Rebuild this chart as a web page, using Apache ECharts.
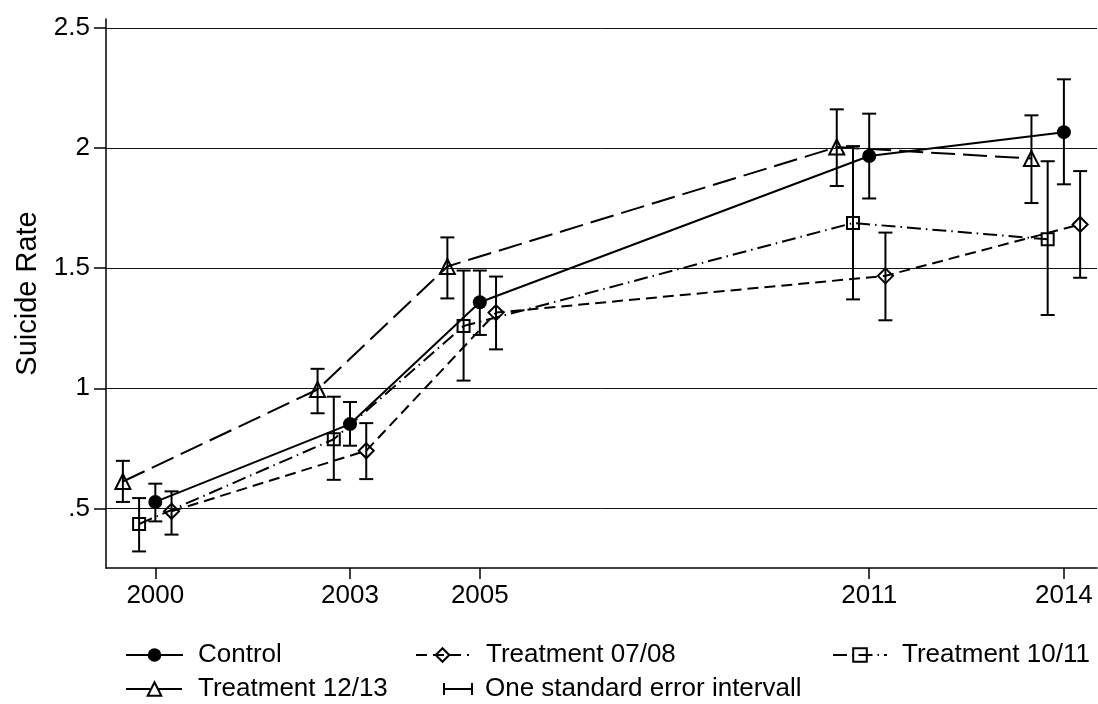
<!DOCTYPE html>
<html>
<head>
<meta charset="utf-8">
<script src="https://cdn.jsdelivr.net/npm/echarts@6/dist/echarts.min.js"></script>
<style>
  html, body { margin: 0; padding: 0; background: #fff; }
  #chart { width: 1098px; height: 704px; }
</style>
</head>
<body>
<div id="chart"></div>
<script>
const years = [2000, 2003, 2005, 2011, 2014];
const yTicks = [0.5, 1, 1.5, 2, 2.5];

const controlMean = [0.527, 0.851, 1.358, 1.967, 2.066];
const controlLow = [0.446, 0.761, 1.222, 1.79, 1.849];
const controlHigh = [0.603, 0.943, 1.49, 2.143, 2.286];

const t0708Mean = [0.488, 0.74, 1.315, 1.468, 1.682];
const t0708Low = [0.391, 0.622, 1.162, 1.283, 1.46];
const t0708High = [0.571, 0.855, 1.465, 1.648, 1.904];

const t1011Mean = [0.435, 0.788, 1.259, 1.688, 1.62];
const t1011Low = [0.321, 0.619, 1.032, 1.37, 1.305];
const t1011High = [0.543, 0.965, 1.49, 2.008, 1.945];

const t1213Mean = [0.612, 0.995, 1.507, 2.004, 1.956];
const t1213Low = [0.527, 0.896, 1.374, 1.842, 1.771];
const t1213High = [0.698, 1.081, 1.628, 2.161, 2.136];

const FONT = '"Liberation Sans", Arial, Helvetica, sans-serif';
const errorName = 'One standard error intervall';

// groups are dodged sideways around each survey year
const groups = [
  { name: 'Control', mean: controlMean, low: controlLow, high: controlHigh, dodge: 0,
    symbol: 'circle', size: 14, fill: '#000', dash: 'solid' },
  { name: 'Treatment 07/08', mean: t0708Mean, low: t0708Low, high: t0708High, dodge: 0.25,
    symbol: 'diamond', size: 15, fill: 'rgba(0,0,0,0)', dash: [11, 6] },
  { name: 'Treatment 10/11', mean: t1011Mean, low: t1011Low, high: t1011High, dodge: -0.25,
    symbol: 'rect', size: 12, fill: 'rgba(0,0,0,0)', dash: [14, 5, 1.5, 5] },
  { name: 'Treatment 12/13', mean: t1213Mean, low: t1213Low, high: t1213High, dodge: -0.5,
    symbol: 'triangle', size: 15, fill: 'rgba(0,0,0,0)', dash: [24, 8] },
];

const lineSeries = groups.map((g) => ({
  name: g.name,
  type: 'line',
  z: 3,
  data: years.map((y, i) => [y + g.dodge, g.mean[i]]),
  symbol: g.symbol,
  symbolSize: g.size,
  showAllSymbol: true,
  lineStyle: { color: '#000', width: 2, type: g.dash },
  itemStyle: { color: g.fill, borderColor: '#000', borderWidth: g.fill === '#000' ? 0 : 2 },
  emphasis: { disabled: true },
}));

const errorData = [];
groups.forEach((g) => {
  years.forEach((y, i) => errorData.push([y + g.dodge, g.low[i], g.high[i]]));
});

const errorSeries = {
  name: errorName,
  type: 'custom',
  z: 2,
  itemStyle: { color: '#000' },
  data: errorData,
  encode: { x: 0, y: [1, 2] },
  renderItem: (params, api) => {
    const x = api.value(0);
    const top = api.coord([x, api.value(2)]);
    const bot = api.coord([x, api.value(1)]);
    const w = 7;
    const style = { stroke: '#000', lineWidth: 2 };
    return {
      type: 'group',
      children: [
        { type: 'line', shape: { x1: top[0], y1: top[1], x2: bot[0], y2: bot[1] }, style },
        { type: 'line', shape: { x1: top[0] - w, y1: top[1], x2: top[0] + w, y2: top[1] }, style },
        { type: 'line', shape: { x1: bot[0] - w, y1: bot[1], x2: bot[0] + w, y2: bot[1] }, style },
      ],
    };
  },
};

// horizontal grid lines at the labelled values
const gridSeries = {
  name: 'grid',
  type: 'line',
  z: 0,
  data: [],
  markLine: {
    silent: true,
    symbol: ['none', 'none'],
    label: { show: false },
    lineStyle: { color: '#111', width: 1, type: 'solid' },
    data: yTicks.map((v) => ({ yAxis: v })),
  },
};

const legendText = (pad) => ({
  fontFamily: FONT, fontSize: 26, color: '#000', lineHeight: 30, padding: [0, 0, 0, pad],
});

const makeLegend = (name, left, top, width, height, pad, icon) => ({
  left, top, padding: 0, selectedMode: false,
  itemWidth: width, itemHeight: height,
  textStyle: legendText(pad),
  data: [icon ? { name, icon } : { name }],
});

const chart = echarts.init(document.getElementById('chart'), null, { renderer: 'canvas' });

chart.setOption({
  animation: false,
  backgroundColor: '#fff',
  textStyle: { fontFamily: FONT },
  grid: { left: 106, right: 1, top: 19, bottom: 136, outerBoundsMode: 'none' },
  xAxis: {
    type: 'value',
    min: 1999.24,
    max: 2014.51,
    splitLine: { show: false },
    axisLine: { lineStyle: { color: '#000', width: 1.5 } },
    axisTick: { length: 11, lineStyle: { color: '#000', width: 1.5 }, customValues: years },
    axisLabel: {
      customValues: years, margin: 15, fontSize: 26, color: '#000', fontFamily: FONT,
      formatter: (v) => String(v),
    },
  },
  yAxis: {
    type: 'value',
    min: 0.252,
    max: 2.537,
    name: 'Suicide Rate',
    nameLocation: 'middle',
    nameGap: 64,
    nameTextStyle: { fontSize: 29, color: '#000', fontFamily: FONT },
    splitLine: { show: false },
    axisLine: { show: true, lineStyle: { color: '#000', width: 1.5 } },
    axisTick: { show: true, length: 12, lineStyle: { color: '#000', width: 1.5 }, customValues: yTicks },
    axisLabel: {
      customValues: yTicks, margin: 16, fontSize: 26, color: '#000', fontFamily: FONT,
      formatter: (v) => String(v).replace(/^0\./, '.'),
    },
  },
  legend: [
    makeLegend('Control', 125, 640, 57, 17, 10),
    makeLegend('Treatment 07/08', 415, 640, 53, 17, 12),
    makeLegend('Treatment 10/11', 832, 640, 54, 17, 10),
    makeLegend('Treatment 12/13', 125, 674, 57, 17, 10),
    makeLegend(errorName, 443, 674, 30, 12, 7, 'path://M0,0H2V12H0Z M0,5H30V7H0Z M28,0H30V12H28Z'),
  ],
  series: [gridSeries, errorSeries, ...lineSeries],
});
</script>
</body>
</html>
